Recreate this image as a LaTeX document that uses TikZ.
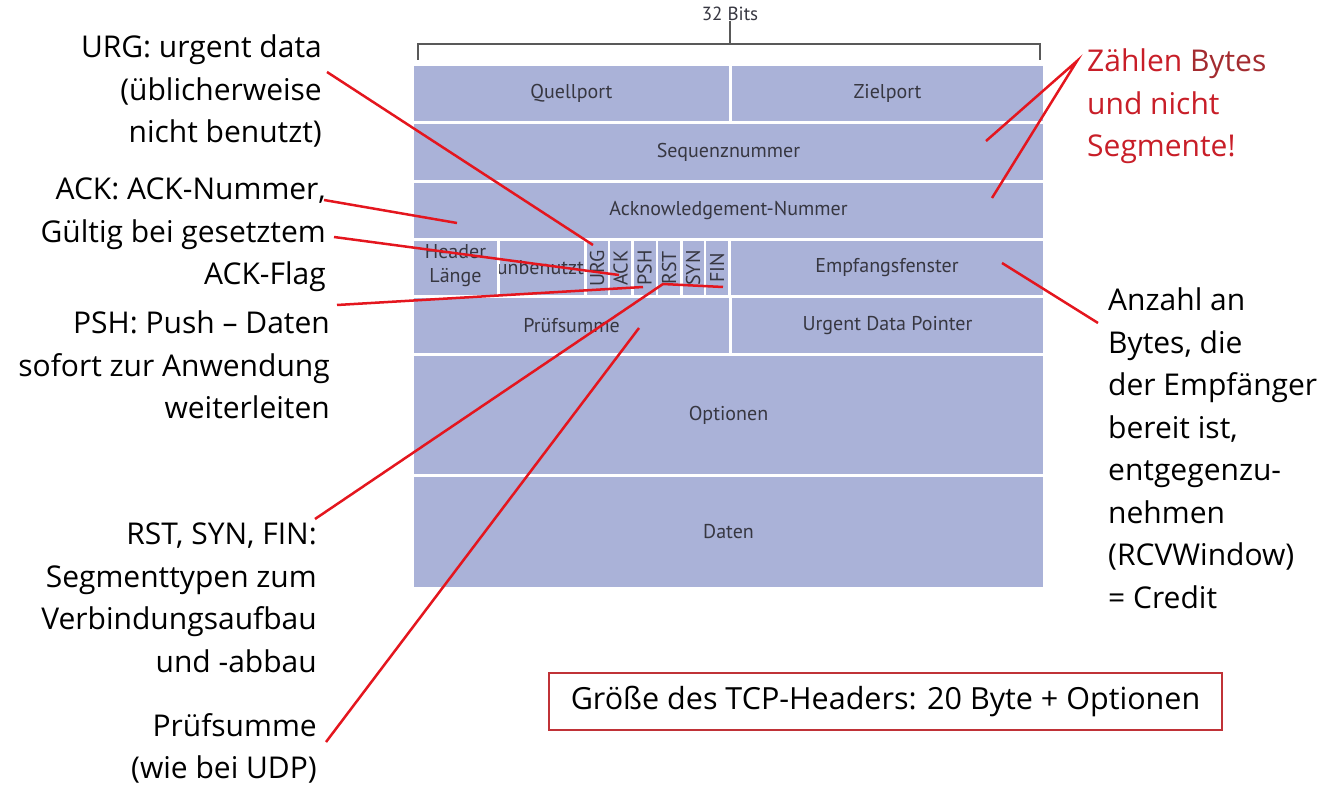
\documentclass[tikz,border=0pt]{standalone}
\usepackage{fontspec}
\setmainfont{Open Sans}
\newfontfamily\tabfont{PT Sans}
\usepackage[]{xcolor}
\definecolor{tcpblue}{RGB}{170,178,216}
\definecolor{tcptext}{RGB}{55,55,65}
\definecolor{notered}{RGB}{228,22,30}
\definecolor{bytered}{RGB}{200,30,40}
\definecolor{boxred}{RGB}{192,50,55}

\tikzset{
  cell/.style = {fill=tcpblue, inner sep=0, text=tcptext, font=\tabfont\fontsize{20}{24}\selectfont},
  celltext/.style = {inner sep=0, text=tcptext, font=\tabfont\fontsize{20}{24}\selectfont},
  flag/.style = {celltext, rotate=90},
  note/.style = {inner sep=0, align=right, anchor=north east, font=\fontsize{30}{42.5}\selectfont},
  rnote/.style = {inner sep=0, align=left, anchor=north west, font=\fontsize{30}{42.5}\selectfont},
  redline/.style = {draw=notered, line width=2.5pt}
}

\begin{document}
\begin{tikzpicture}[x=1pt, y=-1pt]
\useasboundingbox (0,0) rectangle (1334,797);
% 32 bit bracket
\node[celltext, font=\tabfont\fontsize{19}{22}\selectfont] (bits) at (730,14) {32 Bits};
\draw[color=black!65, line width=1.3pt] (418,60) -- (418,44) -- (1040,44) -- (1040,60);
\draw[color=black!65, line width=1.3pt] (730,44) -- (bits.south);
% header rows
\node[cell, minimum width=315, minimum height=55] (quell) at (571.5,93.5) {Quellport};
\node[cell, minimum width=311, minimum height=55] (ziel) at (887.5,93.5) {Zielport};
\node[cell, minimum width=629, minimum height=56] (seq) at (728.5,152) {Sequenznummer};
\node[cell, minimum width=629, minimum height=55] (ack) at (728.5,210.5) {Acknowledgement-Nummer};
\node[cell, minimum width=83, minimum height=54] (hlen) at (455.5,268) {};
\node[cell, minimum width=84, minimum height=54] (unused) at (542,268) {};
\node[cell, minimum width=21, minimum height=54] (urg) at (597,268) {};
\node[cell, minimum width=21, minimum height=54] (ackf) at (620.5,268) {};
\node[cell, minimum width=22, minimum height=54] (psh) at (644.5,268) {};
\node[cell, minimum width=22, minimum height=54] (rst) at (669,268) {};
\node[cell, minimum width=21, minimum height=54] (syn) at (693,268) {};
\node[cell, minimum width=22, minimum height=54] (fin) at (717,268) {};
\node[cell, minimum width=312, minimum height=54] (win) at (887,268) {Empfangsfenster};
\node[cell, minimum width=315, minimum height=55] (csum) at (571.5,325.5) {Prüfsumme};
\node[cell, minimum width=311, minimum height=55] (urgp) at (887.5,325.5) {Urgent Data Pointer};
\node[cell, minimum width=629, minimum height=118] (opt) at (728.5,415) {Optionen};
\node[cell, minimum width=629, minimum height=110] (data) at (728.5,532) {Daten};
% texts that run over their cells
\begin{scope}
\clip (hlen.south west) rectangle (hlen.north east);
\node[celltext, align=center] (hlentext) at (455.5,266) {Header\\Länge};
\end{scope}
\begin{scope}
\clip (unused.south west) rectangle (unused.north east);
\node[celltext, anchor=east] (unusedtext) at (584,268) {unbenutzt};
\end{scope}
\node[flag] (urgtext) at (urg) {URG};
\node[flag] (acktext) at (ackf) {ACK};
\node[flag] (pshtext) at (psh) {PSH};
\node[flag] (rsttext) at (rst) {RST};
\node[flag] (syntext) at (syn) {SYN};
\node[flag] (fintext) at (fin) {FIN};
% notes on the left
\node[note] (urgnote) at (322,35) {URG: urgent data\\(üblicherweise\\nicht benutzt)};
\node[note] (acknote) at (326,178) {ACK: ACK-Nummer,\\Gültig bei gesetztem\\ACK-Flag};
\node[note] (pshnote) at (330,311) {PSH: Push – Daten\\sofort zur Anwendung\\weiterleiten};
\node[note] (rstnote) at (317,523) {RST, SYN, FIN:\\Segmenttypen zum\\Verbindungsaufbau\\und -abbau};
\node[note] (csumnote) at (317,713) {Prüfsumme\\(wie bei UDP)};
% notes on the right
\node[rnote, text=bytered] (bytesnote) at (1087,49) {Zählen {\color{boxred!85!black}Bytes}\\und nicht\\Segmente!};
\node[rnote] (winnote) at (1108,288) {Anzahl an\\Bytes, die\\der Empfänger\\bereit ist,\\entgegenzu-\\nehmen\\(RCVWindow)\\= Credit};
\node[draw=boxred, line width=1.5pt, minimum width=673, minimum height=57, inner sep=0,
  font=\fontsize{30.5}{34}\selectfont] (sizebox) at (885.5,701.5) {Größe des TCP-Headers: 20 Byte + Optionen};
% red pointers
\coordinate (urgA) at (327,72);   \coordinate (urgB) at (593,245);
\coordinate (acknA) at (324,200); \coordinate (acknB) at (457,223);
\coordinate (ackfA) at (334,237); \coordinate (ackfB) at (619,275);
\coordinate (pshA) at (337,305);  \coordinate (pshB) at (643,287);
\coordinate (rstA) at (315,519);  \coordinate (rstB) at (663,284); \coordinate (finB) at (723,287);
\coordinate (csumA) at (326,742); \coordinate (csumB) at (639,328);
\coordinate (bytesA) at (1077,61); \coordinate (seqB) at (986,141); \coordinate (ackB) at (992,198);
\coordinate (winA) at (1002,263); \coordinate (winB) at (1098,323);
\draw[redline] (urgA) -- (urgB);
\draw[redline] (acknA) -- (acknB);
\draw[redline] (ackfA) -- (ackfB);
\draw[redline] (pshA) -- (pshB);
\draw[redline] (rstA) -- (rstB) -- (finB);
\draw[redline] (csumA) -- (csumB);
\draw[redline] (seqB) -- (bytesA) -- (ackB);
\draw[redline] (winA) -- (winB);
\end{tikzpicture}
\end{document}
